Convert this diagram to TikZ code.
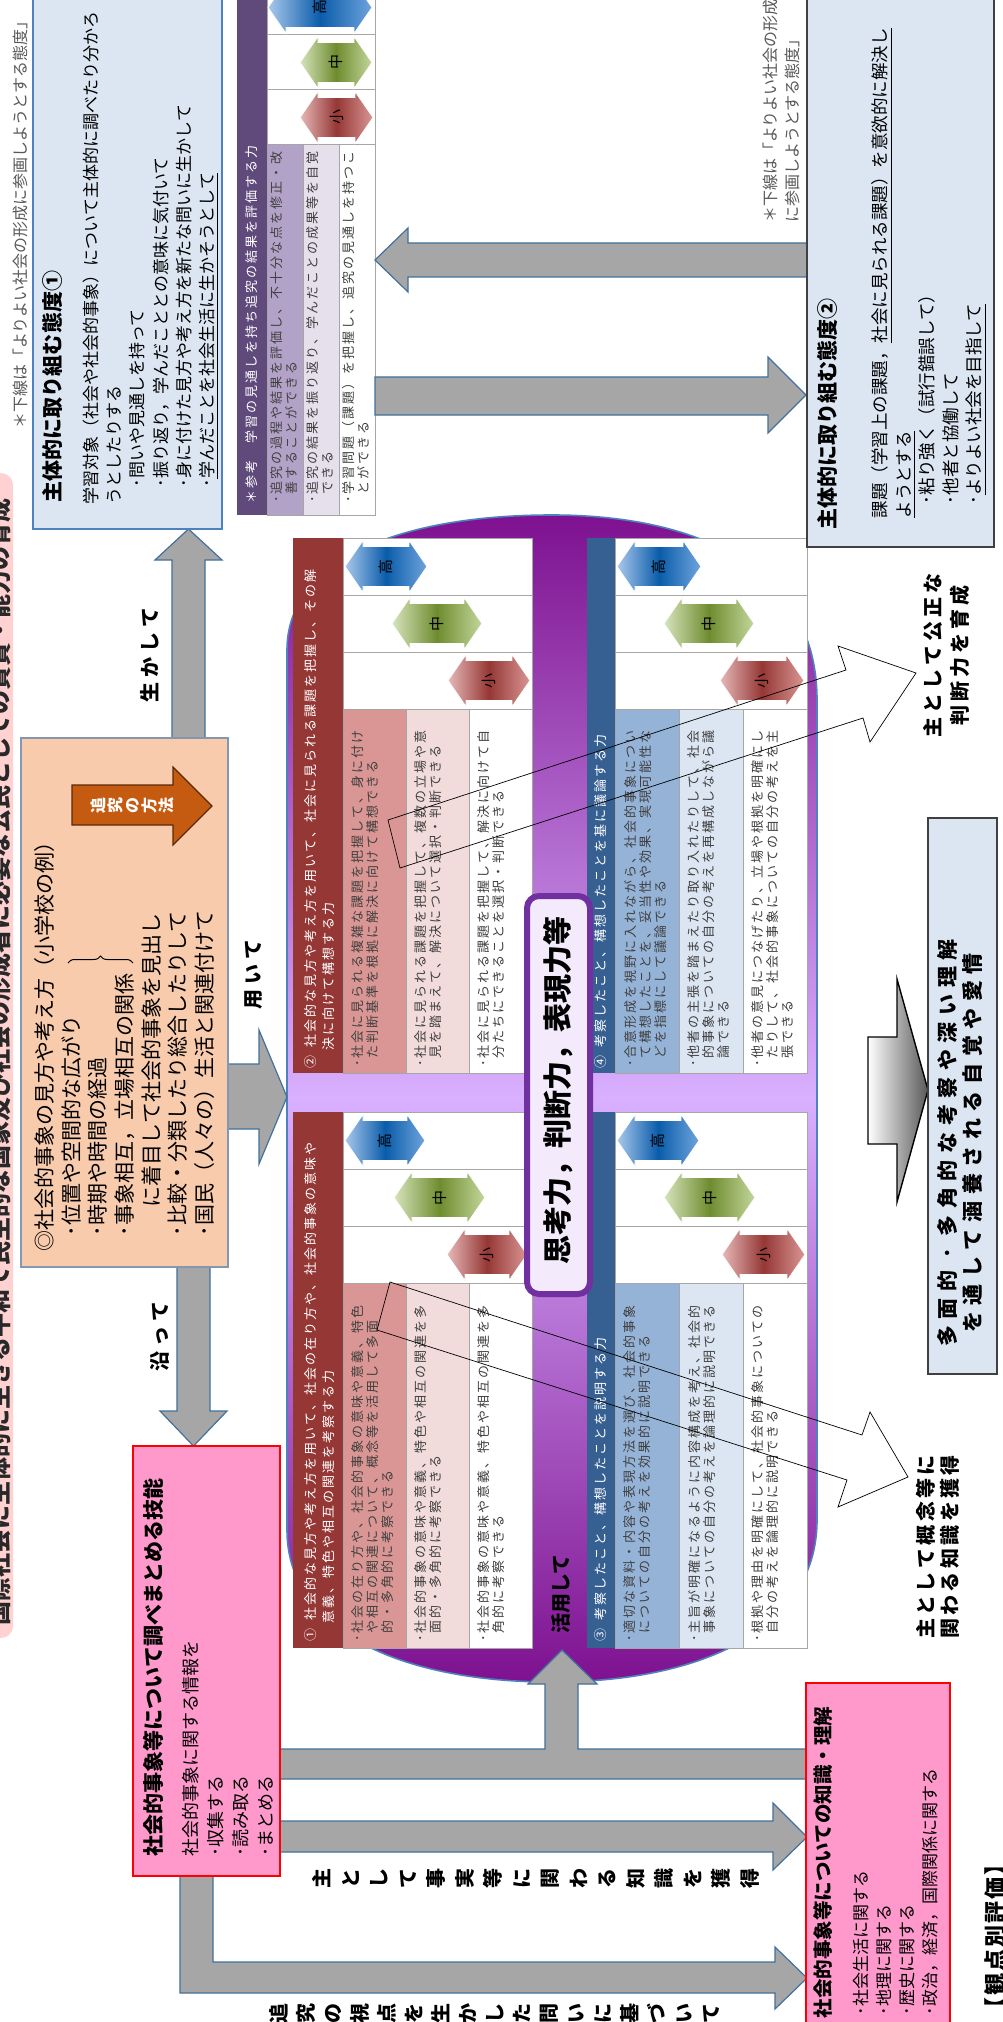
\documentclass[tikz,border=0pt]{standalone}
\usepackage{fontspec}
\setmainfont{Noto Sans CJK JP}
\usepackage{graphicx}
\usetikzlibrary{decorations.pathreplacing}

\definecolor{hdrRed}{HTML}{953735}
\definecolor{rowRed}{HTML}{D99694}
\definecolor{rowRedL}{HTML}{F2DCDB}
\definecolor{hdrBlue}{HTML}{376092}
\definecolor{rowBlue}{HTML}{95B3D7}
\definecolor{rowBlueL}{HTML}{DCE6F2}
\definecolor{hdrPur}{HTML}{604A7B}
\definecolor{rowPur}{HTML}{B3A2C7}
\definecolor{rowPurL}{HTML}{E5E0EC}
\definecolor{boxBlue}{HTML}{DCE6F2}
\definecolor{boxBlueB}{HTML}{4F81BD}
\definecolor{boxDark}{HTML}{404040}
\definecolor{arrGray}{HTML}{A6A6A6}
\definecolor{arrEdge}{HTML}{41719C}
\definecolor{peach}{HTML}{F8CBAD}
\definecolor{peachB}{HTML}{8497B0}
\definecolor{pinkF}{HTML}{FF99CC}
\definecolor{titlePink}{HTML}{FFD1D1}
\definecolor{orangeA}{HTML}{C55A11}
\definecolor{orangeB}{HTML}{5A2A08}
\definecolor{purDark}{HTML}{7E1190}
\definecolor{purLight}{HTML}{D9B0FF}
\definecolor{cenB}{HTML}{7030A0}
\definecolor{cenFill}{HTML}{F3EAFB}
\definecolor{cellTxt}{HTML}{404040}
\definecolor{gridC}{HTML}{A6A6A6}
\definecolor{noteGray}{HTML}{595959}
\definecolor{hiL}{HTML}{A9C8EC}
\definecolor{hiM}{HTML}{0A5CAA}
\definecolor{hiR}{HTML}{6FA4DC}
\definecolor{miL}{HTML}{D7E4BD}
\definecolor{miM}{HTML}{6E8C2E}
\definecolor{miR}{HTML}{C3D69B}
\definecolor{loL}{HTML}{E6B9B8}
\definecolor{loM}{HTML}{953735}
\definecolor{loR}{HTML}{D99694}
\definecolor{gradEnd}{HTML}{595959}

\makeatletter
\newlength\spw
\newcommand\spchars[2]{\begingroup\setlength\spw{#1}\sp@loop#2\relax\endgroup}
\def\sp@loop#1{\ifx\relax#1\else\makebox[\spw]{#1}\expandafter\sp@loop\fi}
\newcommand\vchars[2]{\vbox{\baselineskip=#1\relax\lineskiplimit=-\maxdimen\lineskip=0pt\sp@vloop#2\relax}}
\def\sp@vloop#1{\ifx\relax#1\else\hbox to 1em{\hss#1\hss}\expandafter\sp@vloop\fi}
\makeatother
\newcommand\cb[1]{\makebox[3.75pt]{･}\spchars{7.5pt}{#1}}
\newcommand\cc[1]{\hspace*{3.75pt}\spchars{7.5pt}{#1}}

% table: #1 header x, #2 rows x, #3 end x, #4 top y, #5 bottom y, #6 hdr col, #7 row1 col, #8 row2 col, #9 cell height
\newcommand\tbl[9]{%
 \pgfmathsetmacro\tA{#2+(#3-#2)/3}%
 \pgfmathsetmacro\tB{#2+2*(#3-#2)/3}%
 \pgfmathsetmacro\tC{#4+#9}%
 \pgfmathsetmacro\tD{#4+2*#9}%
 \pgfmathsetmacro\tE{#4+3*#9}%
 \fill[#6] (#1,#4) rectangle (#2,#5);
 \fill[white] (#2,#4) rectangle (#3,#5);
 \fill[#7] (#2,\tE) rectangle (\tA,#5);
 \fill[#8] (\tA,\tE) rectangle (\tB,#5);
 \draw[gridl] (#2,#4) rectangle (#3,#5);
 \draw[gridl] (#2,\tC) -- (#3,\tC) (#2,\tD) -- (#3,\tD) (#2,\tE) -- (#3,\tE)
   (\tA,\tE) -- (\tA,#5) (\tB,\tE) -- (\tB,#5);
}
% level arrow: #1 name, #2 xa, #3 xb, #4 yc, #5 shading, #6 label
\newcommand\lvarr[6]{%
 \path[#5, draw=white, line width=0.4pt] (#2,#4) -- ({#2+18},{#4-26}) -- ({#2+18},{#4-20}) -- ({#3-18},{#4-20}) -- ({#3-18},{#4-26}) -- (#3,#4) -- ({#3-18},{#4+26}) -- ({#3-18},{#4+20}) -- ({#2+18},{#4+20}) -- ({#2+18},{#4+26}) -- cycle;
 \node[lvl] (#1) at ({(#2+#3)/2},#4) {#6};
}

\begin{document}
\begin{tikzpicture}[x=0.5pt, y=-0.5pt,
  every node/.style={inner sep=0pt, outer sep=0pt},
  rot/.style={rotate=90},
  celltxt/.style={rot, anchor=north west, align=left, text=cellTxt, font=\fontsize{6.5}{7.5}\selectfont},
  hdrtxt/.style={rot, anchor=north west, align=left, text=white, font=\fontsize{6.5}{9}\selectfont},
  lvl/.style={rot, font=\fontsize{7.5}{7.5}\selectfont},
  gridl/.style={draw=gridC, line width=0.5pt},
  grayarr/.style={fill=arrGray, draw=arrEdge, line width=0.6pt},
  callout/.style={draw=black, line width=0.35pt},
  bl/.style={rot, font=\bfseries\fontsize{10}{12}\selectfont},
  shHigh/.style={left color=hiL, right color=hiR, middle color=hiM},
  shMid/.style={left color=miL, right color=miR, middle color=miM},
  shLow/.style={left color=loL, right color=loR, middle color=loM}]

\clip (0,0) rectangle (1002,2022);
\fill[white] (0,0) rectangle (1002,2022);

% ---- title strip and notes
\path[fill=titlePink, rounded corners=6pt] (-40,473) rectangle (13,1638);
\node[rot, anchor=west, font=\bfseries\fontsize{12}{12}\selectfont, text={rgb,255:red,40;green,40;blue,40}] (title) at (-1,1625) {国際社会に主体的に生きる平和で民主的な国家及び社会の形成者に必要な公民としての資質・能力の育成};
\node[rot, anchor=west, text=noteGray, font=\fontsize{8}{8}\selectfont] (noteL) at (20,429) {＊下線は「よりよい社会の形成に参画しようとする態度」};
\node[rot, anchor=north west, align=left, text=noteGray, font=\fontsize{8}{11}\selectfont] (noteR) at (763,223) {＊下線は「よりよい社会の形成\\に参画しようとする態度」};

% ---- purple field
\path[top color=purDark, bottom color=purDark, middle color=purLight, draw=boxBlueB, line width=0.8pt]
  (287,650) .. controls (287,560) and (400,515) .. (552,515)
  .. controls (700,515) and (817,570) .. (817,700)
  -- (817,1520) .. controls (817,1630) and (700,1682) .. (552,1682)
  .. controls (400,1682) and (287,1630) .. (287,1530) -- cycle;

% ---- reference table
\tbl{237}{267}{375}{-20}{515}{hdrPur}{rowPur}{rowPurL}{55}
\lvarr{rfh}{268}{372}{7.5}{shHigh}{高}
\lvarr{rfm}{300}{372}{62.5}{shMid}{中}
\lvarr{rfl}{300}{373}{117.5}{shLow}{小}
\node[hdrtxt] (rfhd) at (245.5,504) {\spchars{7.5pt}{＊参考　学習の見通しを持ち追究の結果を評価する力}};
\node[celltxt] (rfr1) at (270.5,503) {\cb{追究の過程や結果を評価し、不十分な点を修正・改}\\\cc{善することができる}};
\node[celltxt] (rfr2) at (306.5,503) {\cb{追究の結果を振り返り、学んだことの成果等を自覚}\\\cc{できる}};
\node[celltxt] (rfr3) at (342.5,503) {\cb{学習問題（課題）を把握し、追究の見通しを持つこ}\\\cc{とができる}};

% ---- table 2 (top left)
\tbl{293}{343}{532}{538}{1073}{hdrRed}{rowRed}{rowRedL}{57}
\lvarr{t2h}{345}{427}{566.5}{shHigh}{高}
\lvarr{t2m}{392}{482}{623.5}{shMid}{中}
\lvarr{t2l}{448}{530}{680.5}{shLow}{小}
\node[hdrtxt] (t2hd) at (304,1069) {\spchars{7.5pt}{②}\hspace{3pt}\spchars{7.5pt}{社会的な見方や考え方を用いて、社会に見られる課題を把握し、その解}\\\hspace*{9pt}\spchars{7.5pt}{決に向けて構想する力}};
\node[celltxt] (t2r1) at (352,1067) {\cb{社会に見られる複雑な課題を把握して、身に付け}\\\cc{た判断基準を根拠に解決に向けて構想できる}};
\node[celltxt] (t2r2) at (415,1067) {\cb{社会に見られる課題を把握して、複数の立場や意}\\\cc{見を踏まえて、解決について選択・判断できる}};
\node[celltxt] (t2r3) at (478,1067) {\cb{社会に見られる課題を把握して、解決に向けて自}\\\cc{分たちにできることを選択・判断できる}};

% ---- table 4 (top right)
\tbl{587}{615}{807}{538}{1073}{hdrBlue}{rowBlue}{rowBlueL}{57}
\lvarr{t4h}{617}{701}{566.5}{shHigh}{高}
\lvarr{t4m}{664}{754}{623.5}{shMid}{中}
\lvarr{t4l}{720}{804}{680.5}{shLow}{小}
\node[hdrtxt] (t4hd) at (594.5,1069) {\spchars{7.5pt}{④}\hspace{3pt}\spchars{7.5pt}{考察したこと、構想したことを基に議論する力}};
\node[celltxt] (t4r1) at (624,1067) {\cb{合意形成を視野に入れながら、社会的事象につい}\\\cc{て構想したことを、妥当性や効果、実現可能性な}\\\cc{どを指標にして議論できる}};
\node[celltxt] (t4r2) at (688,1067) {\cb{他者の主張を踏まえたり取り入れたりして、社会}\\\cc{的事象についての自分の考えを再構成しながら議}\\\cc{論できる}};
\node[celltxt] (t4r3) at (752,1067) {\cb{他者の意見につなげたり、立場や根拠を明確にし}\\\cc{たりして、社会的事象についての自分の考えを主}\\\cc{張できる}};

% ---- table 1 (bottom left)
\tbl{293}{343}{532}{1112}{1648}{hdrRed}{rowRed}{rowRedL}{57}
\lvarr{t1h}{345}{425}{1140.5}{shHigh}{高}
\lvarr{t1m}{394}{485}{1197.5}{shMid}{中}
\lvarr{t1l}{447}{527}{1254.5}{shLow}{小}
\node[hdrtxt] (t1hd) at (304,1642) {\spchars{7.5pt}{①}\hspace{3pt}\spchars{7.5pt}{社会的な見方や考え方を用いて、社会の在り方や、社会的事象の意味や}\\\hspace*{9pt}\spchars{7.5pt}{意義、特色や相互の関連を考察する力}};
\node[celltxt] (t1r1) at (352,1642) {\cb{社会の在り方や、社会的事象の意味や意義、特色}\\\cc{や相互の関連について、概念等を活用して多面}\\\cc{的・多角的に考察できる}};
\node[celltxt] (t1r2) at (415,1642) {\cb{社会的事象の意味や意義、特色や相互の関連を多}\\\cc{面的・多角的に考察できる}};
\node[celltxt] (t1r3) at (478,1642) {\cb{社会的事象の意味や意義、特色や相互の関連を多}\\\cc{角的に考察できる}};

% ---- table 3 (bottom right)
\tbl{587}{615}{807}{1112}{1648}{hdrBlue}{rowBlue}{rowBlueL}{57}
\lvarr{t3h}{617}{699}{1140.5}{shHigh}{高}
\lvarr{t3m}{664}{755}{1197.5}{shMid}{中}
\lvarr{t3l}{722}{805}{1254.5}{shLow}{小}
\node[hdrtxt] (t3hd) at (594.5,1642) {\spchars{7.5pt}{③}\hspace{3pt}\spchars{7.5pt}{考察したこと、構想したことを説明する力}};
\node[celltxt] (t3r1) at (624,1642) {\cb{適切な資料・内容や表現方法を選び、社会的事象}\\\cc{についての自分の考えを効果的に説明できる}};
\node[celltxt] (t3r2) at (688,1642) {\cb{主旨が明確になるように内容構成を考え、社会的}\\\cc{事象についての自分の考えを論理的に説明できる}};
\node[celltxt] (t3r3) at (752,1642) {\cb{根拠や理由を明確にして、社会的事象についての}\\\cc{自分の考えを論理的に説明できる}};

% ---- centre box
\path[fill=cenFill, draw=cenB, line width=3pt, rounded corners=6pt] (527,896) rectangle (590,1294);
\node[rot, font=\bfseries\fontsize{14.5}{14.5}\selectfont] (core) at (558.5,1090) {思考力，判断力，表現力等};
\node[bl] (katsuyo) at (561,1594) {活用して};

% ---- callouts
\draw[callout] (388,820) -- (846,670) -- (838,646) -- (916,673) -- (870,742) -- (863,718) -- (400,868) -- cycle;
\draw[callout] (390,1282) -- (862,1435) -- (870,1412) -- (908,1477) -- (838,1507) -- (847,1480) -- (377,1330) -- cycle;

% ---- gray arrows
\path[grayarr] (172,738) -- (172,560) -- (155,560) -- (188.5,529) -- (222,560) -- (205,560) -- (205,738) -- cycle;
\path[grayarr] (177,1267) -- (177,1411) -- (160,1411) -- (193.5,1446) -- (227,1411) -- (210,1411) -- (210,1267) -- cycle;
\path[grayarr] (228,1064) -- (259,1064) -- (259,1030) -- (287,1097) -- (259,1164) -- (259,1129) -- (228,1129) -- cycle;
\path[grayarr] (807,243) -- (408,243) -- (408,228) -- (375,260) -- (408,292) -- (408,277) -- (807,277) -- cycle;
\path[grayarr] (375,377) -- (768,377) -- (768,357) -- (806,395) -- (768,433) -- (768,415) -- (375,415) -- cycle;
\path[grayarr] (280,1749) -- (545,1749) -- (545,1684) -- (528,1684) -- (562,1650) -- (597,1684) -- (578,1684) -- (578,1749) -- (806,1749) -- (806,1779) -- (280,1779) -- cycle;
\path[grayarr] (280,1821) -- (773,1821) -- (773,1803) -- (807,1837) -- (773,1870) -- (773,1852) -- (280,1852) -- cycle;
\path[grayarr] (180,1876) -- (180,1993) -- (775,1993) -- (775,2009) -- (807,1978) -- (775,1947) -- (775,1962) -- (213,1962) -- (213,1876) -- cycle;
\path[left color=white, right color=gradEnd, draw=black, line width=0.7pt] (868,1037) -- (897,1037) -- (897,979) -- (928,1090) -- (897,1202) -- (897,1144) -- (868,1144) -- cycle;

% ---- blue box 1
\path[fill=boxBlue, draw=boxBlueB, line width=0.7pt] (33,-10) rectangle (222,529);
\node[rot, anchor=west, font=\bfseries\fontsize{10.5}{10.5}\selectfont] (b1head) at (52,502) {主体的に取り組む態度①};
\node[rot, anchor=north west, align=left, font=\fontsize{8.5}{11.6}\selectfont] (b1body) at (83,504) {学習対象（社会や社会的事象）について主体的に調べたり分かろ\\うとしたりする\\\hspace*{8.5pt}･問いや見通しを持って\\\hspace*{8.5pt}･振り返り，学んだこととの意味に気付いて\\\hspace*{8.5pt}･身に付けた見方や考え方を新たな問いに生かして\\\hspace*{8.5pt}･\underline{学んだことを社会生活に生かそうとして}};

% ---- blue box 2
\path[fill=boxBlue, draw=boxDark, line width=0.6pt] (807,-10) rectangle (994,547);
\node[rot, anchor=west, font=\bfseries\fontsize{10.5}{10.5}\selectfont] (b2head) at (827,529) {主体的に取り組む態度②};
\node[rot, anchor=north west, align=left, font=\fontsize{8.75}{11.75}\selectfont] (b2body) at (872,518) {課題（学習上の課題，\underline{社会に見られる課題）を意欲的に解決し}\\\underline{ようとする}\\\hspace*{7pt}･粘り強く（試行錯誤して）\\\hspace*{7pt}･他者と協働して\\\hspace*{7pt}･\underline{よりよい社会を目指して}};

% ---- box: 多面的
\path[fill=boxBlue, draw=boxDark, line width=0.6pt] (928,818) rectangle (997,1374);
\node[rot, align=center, font=\bfseries\fontsize{10.5}{12.5}\selectfont] (tamen) at (960,1143) {\spchars{13.8pt}{多面的･多角的な考察や深い理解}\\\spchars{13.8pt}{を通して涵養される自覚や愛情}};

% ---- orange box
\path[fill=peach, draw=peachB, line width=0.8pt] (21,738) rectangle (228,1267);
\path[fill=orangeA, draw=orangeB, line width=0.6pt] (72,785) -- (173,785) -- (173,767) -- (212,806) -- (173,845) -- (173,825) -- (72,825) -- cycle;
\node[rot, text=white, font=\bfseries\fontsize{8}{8}\selectfont] (hoho) at (132,805) {\vchars{8.5pt}{追究の方法}};
\node[rot, anchor=north west, align=left, font=\fontsize{10.5}{13.35}\selectfont] (orbody) at (34.5,1251) {◎社会的事象の見方や考え方（小学校の例）\\\hspace*{7.5pt}･位置や空間的な広がり\\\hspace*{7.5pt}･時期や時間の経過\\\hspace*{7.5pt}･事象相互，立場相互の関係\\\hspace*{22pt}に着目して社会的事象を見出し\\\hspace*{7.5pt}･比較・分類したり総合したりして\\\hspace*{7.5pt}･国民（人々の）生活と関連付けて};
\draw[decorate, decoration={brace, amplitude=3.5pt}, line width=0.5pt] (68,963) -- (133,963);

% ---- skills box
\path[fill=pinkF, draw=red, line width=1.2pt] (133,1446) rectangle (280,1876);
\node[rot, anchor=west, font=\bfseries\fontsize{10.5}{10.5}\selectfont] (skhead) at (153,1856) {社会的事象等について調べまとめる技能};
\node[rot, anchor=north west, align=left, font=\fontsize{9}{12.5}\selectfont] (skbody) at (182,1856) {社会的事象に関する情報を\\･収集する\\･読み取る\\･まとめる};

% ---- knowledge box
\path[fill=pinkF, draw=red, line width=1.2pt] (806,1683) rectangle (950,2040);
\node[rot, anchor=west, font=\bfseries\fontsize{9.75}{9.75}\selectfont] (knhead) at (823,2018) {社会的事象等についての知識・理解};
\node[rot, anchor=north west, align=left, font=\fontsize{8.5}{11.5}\selectfont] (knbody) at (853.5,2015) {･社会生活に関する\\･地理に関する\\･歴史に関する\\･政治，経済，国際関係に関する};

% ---- labels
\node[bl, anchor=west] (ikashite) at (150,705) {\spchars{12.5pt}{生かして}};
\node[bl, anchor=west] (sotte) at (160,1374) {\spchars{12.5pt}{沿って}};
\node[bl, anchor=west] (mochiite) at (254,1012) {\spchars{12.5pt}{用いて}};
\node[rot, align=center, font=\bfseries\fontsize{10}{13.5}\selectfont] (kousei) at (946,655) {\spchars{12pt}{主として公正な}\\\spchars{12pt}{判断力を育成}};
\node[rot, align=center, font=\bfseries\fontsize{10}{12}\selectfont] (gainen) at (938,1547) {\spchars{11.7pt}{主として概念等に}\\\spchars{11.7pt}{関わる知識を獲得}};
\node[rot, anchor=west, font=\bfseries\fontsize{11}{11}\selectfont] (kanten) at (995,2020) {\spchars{12pt}{【観点別評価】}};
\node[rot, font=\bfseries\fontsize{10}{10}\selectfont] (jijitsu) at (536,1878) {\vchars{14.25pt}{主として事実等に関わる知識を獲得}};
\node[rot, font=\bfseries\fontsize{10}{10}\selectfont] (shiten) at (494,2013) {\vchars{13.5pt}{追究の視点を生かした問いに基づいて}};

\end{tikzpicture}
\end{document}
